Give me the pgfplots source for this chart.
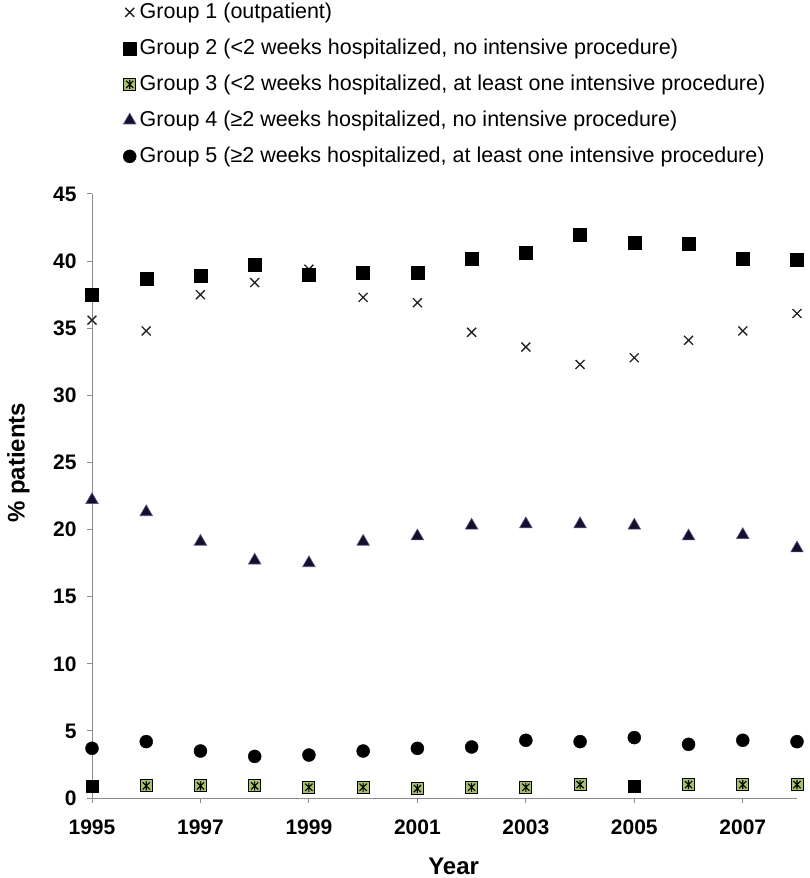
\documentclass[border=0pt]{standalone}
\usepackage{fontspec}
\setmainfont{Liberation Sans}
\usepackage{pgfplots}
\pgfplotsset{compat=1.18}
\definecolor{axgray}{HTML}{8C8C8C}
\definecolor{gthree}{HTML}{A6C266}
\definecolor{tri}{HTML}{150F2E}
\definecolor{triedge}{HTML}{5B4C8C}
\definecolor{xmk}{HTML}{222222}
\pgfdeclareplotmark{gthree}{%
  \pgfpathrectangle{\pgfqpoint{-\pgfplotmarksize}{-\pgfplotmarksize}}{\pgfqpoint{2\pgfplotmarksize}{2\pgfplotmarksize}}%
  \pgfsetfillcolor{gthree}\pgfsetstrokecolor{black}\pgfsetlinewidth{1pt}%
  \pgfusepathqfillstroke
  \pgfsetstrokecolor{black}\pgfsetlinewidth{1.1pt}%
  \pgfpathmoveto{\pgfqpoint{0pt}{-0.75\pgfplotmarksize}}\pgfpathlineto{\pgfqpoint{0pt}{0.75\pgfplotmarksize}}%
  \pgfpathmoveto{\pgfqpoint{-0.6\pgfplotmarksize}{-0.6\pgfplotmarksize}}\pgfpathlineto{\pgfqpoint{0.6\pgfplotmarksize}{0.6\pgfplotmarksize}}%
  \pgfpathmoveto{\pgfqpoint{-0.6\pgfplotmarksize}{0.6\pgfplotmarksize}}\pgfpathlineto{\pgfqpoint{0.6\pgfplotmarksize}{-0.6\pgfplotmarksize}}%
  \pgfusepathqstroke
}
\begin{document}
\begin{tikzpicture}[x=1pt,y=1pt]
\useasboundingbox (0,0) rectangle (810,878);
\begin{axis}[
  at={(92pt,80pt)}, anchor=south west,
  scale only axis, width=705pt, height=604pt,
  xmin=1995, xmax=2008, ymin=0, ymax=45,
  xtick={1995,1997,...,2007}, ytick={0,5,...,45},
  axis x line*=bottom, axis y line*=left,
  axis line style={axgray, line width=1pt, -},
  tick style={axgray, line width=1pt},
  tick align=outside, major tick length=5pt,
  ticklabel style={font=\bfseries\fontsize{21}{25}\selectfont},
  xticklabel style={yshift=-13pt},
  yticklabel style={xshift=-7pt},
  /pgf/number format/assume math mode=true,
  /pgf/number format/1000 sep={},
  xlabel={Year}, ylabel={\% patients},
  label style={font=\bfseries\fontsize{24}{28}\selectfont},
  xlabel style={at={(axis description cs:0.513,0)}, anchor=base, yshift=-76pt},
  ylabel style={at={(axis description cs:-0.1206,0.555)}, anchor=north, inner sep=0pt},
  clip=false,
  legend image code/.code={\path[draw=none,fill=none] (0pt,-7pt) rectangle (13pt,7pt); \draw[#1] plot coordinates {(6.5pt,0pt)};},
  legend cell align=left,
  legend style={at={(axis description cs:0.044,1.318)}, anchor=north west, draw=none, fill=none,
    inner sep=0pt, row sep=15.5pt, column sep=3.5pt,
    font=\fontsize{21.5}{25}\selectfont,
    nodes={inner sep=0pt, text height=16pt, text depth=4.5pt}},
]
\addplot[only marks, mark=x, mark size=6.3pt, color=xmk, line width=1.3pt] coordinates {
(1995,35.6) (1996,34.8) (1997,37.5) (1998,38.4) (1999,39.4) (2000,37.3) (2001,36.9)
(2002,34.7) (2003,33.6) (2004,32.3) (2005,32.8) (2006,34.1) (2007,34.8) (2008,36.1)};
\addlegendentry{Group 1 (outpatient)}
\addplot[only marks, mark=square*, mark size=6.5pt, color=black] coordinates {
(1995,37.5) (1996,38.7) (1997,38.9) (1998,39.7) (1999,39.0) (2000,39.1) (2001,39.1)
(2002,40.2) (2003,40.6) (2004,42.0) (2005,41.4) (2006,41.3) (2007,40.2) (2008,40.1)};
\addlegendentry{Group 2 (<2 weeks hospitalized, no intensive procedure)}
\addplot[only marks, mark=gthree, mark size=6pt] coordinates {
(1996,0.9) (1997,0.9) (1998,0.9) (1999,0.8) (2000,0.8) (2001,0.7)
(2002,0.8) (2003,0.8) (2004,1.0) (2006,1.0) (2007,1.0) (2008,1.0)};
\addlegendentry{Group 3 (<2 weeks hospitalized, at least one intensive procedure)}
\addplot[only marks, mark=triangle*, mark size=7.2pt, mark options={fill=tri, draw=triedge, line width=0.6pt}] coordinates {
(1995,22.2) (1996,21.3) (1997,19.1) (1998,17.7) (1999,17.5) (2000,19.1) (2001,19.5)
(2002,20.3) (2003,20.4) (2004,20.4) (2005,20.3) (2006,19.5) (2007,19.6) (2008,18.6)};
\addlegendentry{Group 4 (≥2 weeks hospitalized, no intensive procedure)}
\addplot[only marks, mark=*, mark size=6.5pt, color=black] coordinates {
(1995,3.7) (1996,4.2) (1997,3.5) (1998,3.1) (1999,3.2) (2000,3.5) (2001,3.7)
(2002,3.8) (2003,4.3) (2004,4.2) (2005,4.5) (2006,4.0) (2007,4.3) (2008,4.2)};
\addlegendentry{Group 5 (≥2 weeks hospitalized, at least one intensive procedure)}
\addplot[only marks, mark=square*, mark size=6pt, color=black, forget plot] coordinates {
(1995,0.9) (2005,0.9)};
\end{axis}
\end{tikzpicture}
\end{document}
